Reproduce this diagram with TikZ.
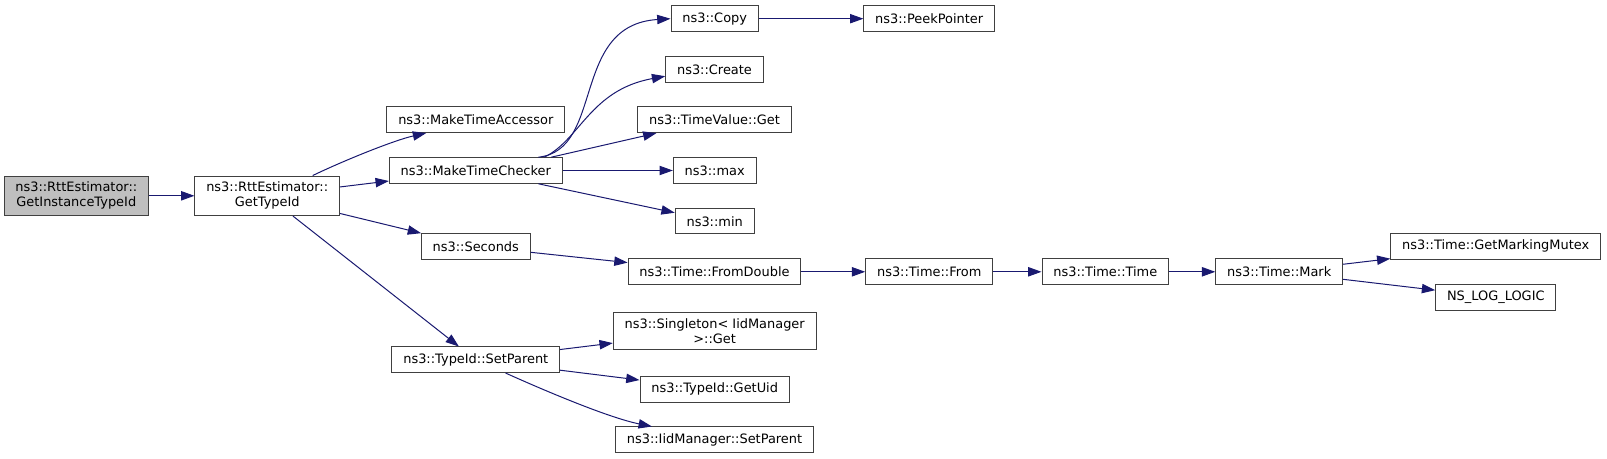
\documentclass[tikz,border=0pt]{standalone}
\usepackage{fontspec}
\setmainfont{DejaVu Sans}
\usetikzlibrary{arrows.meta}

\definecolor{edgeblue}{HTML}{191970}
\definecolor{boxline}{HTML}{404040}
\definecolor{rootgray}{HTML}{BFBFBF}

\begin{document}
\begin{tikzpicture}[
    x=0.75pt, y=0.75pt,
    font=\fontsize{9.7}{11.25}\selectfont,
    fnbox/.style={
        draw=boxline, line width=0.75pt, fill=white,
        inner xsep=8.5pt, inner ysep=4.5pt,
        minimum height=19.2pt, align=center
    },
    rootbox/.style={fnbox, fill=rootgray},
    call/.style={-{Triangle[length=10pt, width=7pt]}, draw=edgeblue, line width=0.75pt}
]
\useasboundingbox (0,0) rectangle (1607,-459);

% Caller and first level
\node[rootbox] (root)   at (76.3,-195.8)  {ns3::RttEstimator::\\GetInstanceTypeId};
\node[fnbox]   (gettid) at (267.2,-195.8) {ns3::RttEstimator::\\GetTypeId};

\node[fnbox] (mkacc) at (475.8,-119.8) {ns3::MakeTimeAccessor};
\node[fnbox] (mkchk) at (475.8,-170.5) {ns3::MakeTimeChecker};
\node[fnbox] (secs)  at (475.8,-246.5) {ns3::Seconds};
\node[fnbox] (tsetp) at (475.8,-359.8) {ns3::TypeId::SetParent};

% Third column
\node[fnbox] (copy)    at (714.7,-18.7)  {ns3::Copy};
\node[fnbox] (create)  at (714.5,-69.3)  {ns3::Create};
\node[fnbox] (tvget)   at (714.5,-119.8) {ns3::TimeValue::Get};
\node[fnbox] (tmax)    at (714.7,-170.5) {ns3::max};
\node[fnbox] (tmin)    at (714.7,-221.2) {ns3::min};
\node[fnbox] (fromdbl) at (714.5,-271.8) {ns3::Time::FromDouble};
\node[fnbox] (single)  at (714.7,-330.7) {ns3::Singleton< IidManager\\ >::Get};
\node[fnbox] (getuid)  at (714.7,-389.3) {ns3::TypeId::GetUid};
\node[fnbox] (isetp)   at (714.5,-439.8) {ns3::IidManager::SetParent};

% Time chain
\node[fnbox] (peek)  at (929.2,-18.7)   {ns3::PeekPointer};
\node[fnbox] (tfrom) at (929.2,-271.8)  {ns3::Time::From};
\node[fnbox] (ttime) at (1105.3,-271.8) {ns3::Time::Time};
\node[fnbox] (tmark) at (1279.2,-271.8) {ns3::Time::Mark};
\node[fnbox] (mutex) at (1495.7,-246.3) {ns3::Time::GetMarkingMutex};
\node[fnbox] (nslog) at (1495.8,-297.3) {NS\_LOG\_LOGIC};

% Calls
\draw[call] (root) -- (gettid);
\draw[call] (gettid.24) .. controls (345,-160) and (395,-140) .. (mkacc.195);
\draw[call] (gettid) -- (mkchk);
\draw[call] (gettid) -- (secs);
\draw[call] (gettid) -- (tsetp);

\draw[call] (mkchk.12) .. controls (605,-150) and (570,-25) .. (copy.west);
\draw[call] (mkchk.11) .. controls (580,-140) and (590,-90) .. (create.188);
\draw[call] (mkchk.10) -- (tvget);
\draw[call] (mkchk) -- (tmax);
\draw[call] (mkchk) -- (tmin);
\draw[call] (copy) -- (peek);

\draw[call] (secs) -- (fromdbl);
\draw[call] (fromdbl) -- (tfrom);
\draw[call] (tfrom) -- (ttime);
\draw[call] (ttime) -- (tmark);
\draw[call] (tmark) -- (mutex);
\draw[call] (tmark) -- (nslog);

\draw[call] (tsetp) -- (single);
\draw[call] (tsetp) -- (getuid);
\draw[call] (tsetp.-24) .. controls (550,-393) and (610,-418) .. (isetp.168);

\end{tikzpicture}
\end{document}
